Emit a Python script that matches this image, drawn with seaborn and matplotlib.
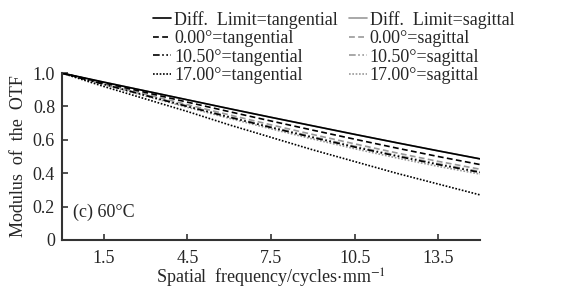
import matplotlib
matplotlib.use("Agg")
import matplotlib.pyplot as plt
import pandas as pd
import seaborn as sns

# spatial frequency samples (cycles/mm)
freq = [0, 1.5, 3, 4.5, 6, 7.5, 9, 10.5, 12, 13.5, 15]

# MTF curves
diff_t = [1.0, 0.946, 0.893, 0.840, 0.787, 0.735, 0.684, 0.633, 0.583, 0.534, 0.486]
diff_s = [1.0, 0.946, 0.893, 0.840, 0.787, 0.735, 0.684, 0.633, 0.583, 0.534, 0.486]
f0_t = [1.0, 0.942, 0.884, 0.826, 0.769, 0.713, 0.658, 0.604, 0.551, 0.500, 0.452]
f0_s = [1.0, 0.937, 0.874, 0.811, 0.750, 0.690, 0.632, 0.576, 0.522, 0.471, 0.424]
f10_t = [1.0, 0.933, 0.866, 0.800, 0.736, 0.674, 0.614, 0.557, 0.503, 0.452, 0.405]
f10_s = [1.0, 0.935, 0.869, 0.804, 0.740, 0.678, 0.619, 0.562, 0.508, 0.457, 0.410]
f17_t = [1.0, 0.920, 0.845, 0.770, 0.690, 0.615, 0.540, 0.470, 0.400, 0.335, 0.270]
f17_s = [1.0, 0.932, 0.862, 0.795, 0.729, 0.666, 0.605, 0.547, 0.492, 0.441, 0.395]

xticks = [1.5, 4.5, 7.5, 10.5, 13.5]
yticks = [0, 0.2, 0.4, 0.6, 0.8, 1.0]
ytick_labels = ["0", "0.2", "0.4", "0.6", "0.8", "1.0"]

sns.set_style("ticks")
plt.rcParams["font.family"] = ["Liberation Serif", "DejaVu Serif"]
plt.rcParams["mathtext.fontset"] = "stix"
plt.rcParams["font.size"] = 13

fig = plt.figure(figsize=(5.82, 2.89), dpi=100)
ax = fig.add_axes([0.1065, 0.1696, 0.7185, 0.5774])

dash = (0, (3.5, 2))
dashdot = (0, (4, 1.5, 1, 1.5, 1, 1.5))
dot = (0, (1, 1))

series = [
    ("Diff.  Limit=tangential", diff_t, "black", "-"),
    ("0.00°=tangential", f0_t, "black", dash),
    ("10.50°=tangential", f10_t, "black", dashdot),
    ("17.00°=tangential", f17_t, "black", dot),
    ("Diff.  Limit=sagittal", diff_s, "#999999", "-"),
    ("0.00°=sagittal", f0_s, "#999999", dash),
    ("10.50°=sagittal", f10_s, "#999999", dashdot),
    ("17.00°=sagittal", f17_s, "#999999", dot),
]

# draw sagittal first so tangential lies on top
for name, vals, col, ls in series[4:] + series[:4]:
    df = pd.DataFrame({"freq": freq, "mtf": vals})
    sns.lineplot(data=df, x="freq", y="mtf", ax=ax, color=col,
                 linestyle=ls, linewidth=1.2, label=name, legend=False)

ax.set_xlim(0, 15)
ax.set_ylim(0, 1.0)
ax.set_xticks(xticks)
ax.set_xticklabels([str(t) for t in xticks])
ax.set_yticks(yticks)
ax.set_yticklabels(ytick_labels)
ax.tick_params(axis="y", direction="in", length=4, width=1.2, color="#333333", pad=5)
ax.tick_params(axis="x", direction="in", length=4, width=1.2, color="#333333", pad=7)
for s in ["left", "bottom"]:
    ax.spines[s].set_linewidth(1.5)
    ax.spines[s].set_color("#333333")
sns.despine(ax=ax)

ax.set_xlabel(r"Spatial  frequency/cycles$\cdot$mm$^{-1}$", labelpad=0)
ax.set_ylabel("Modulus  of  the  OTF", labelpad=4)
ax.text(0.4, 0.14, "(c) 60°C", fontsize=13)

handles, labels = ax.get_legend_handles_labels()
order = {name: i for i, (name, _, _, _) in enumerate(series)}
pairs = sorted(zip(handles, labels), key=lambda p: order[p[1]])
fig.legend([p[0] for p in pairs], [p[1] for p in pairs], ncol=2,
           loc="upper left", bbox_to_anchor=(0.245, 1.0), frameon=False,
           handlelength=1.0, handletextpad=0.15, labelspacing=0.08,
           columnspacing=0.6, borderpad=0.1, fontsize=13)

fig.savefig("out.png", dpi=100)
